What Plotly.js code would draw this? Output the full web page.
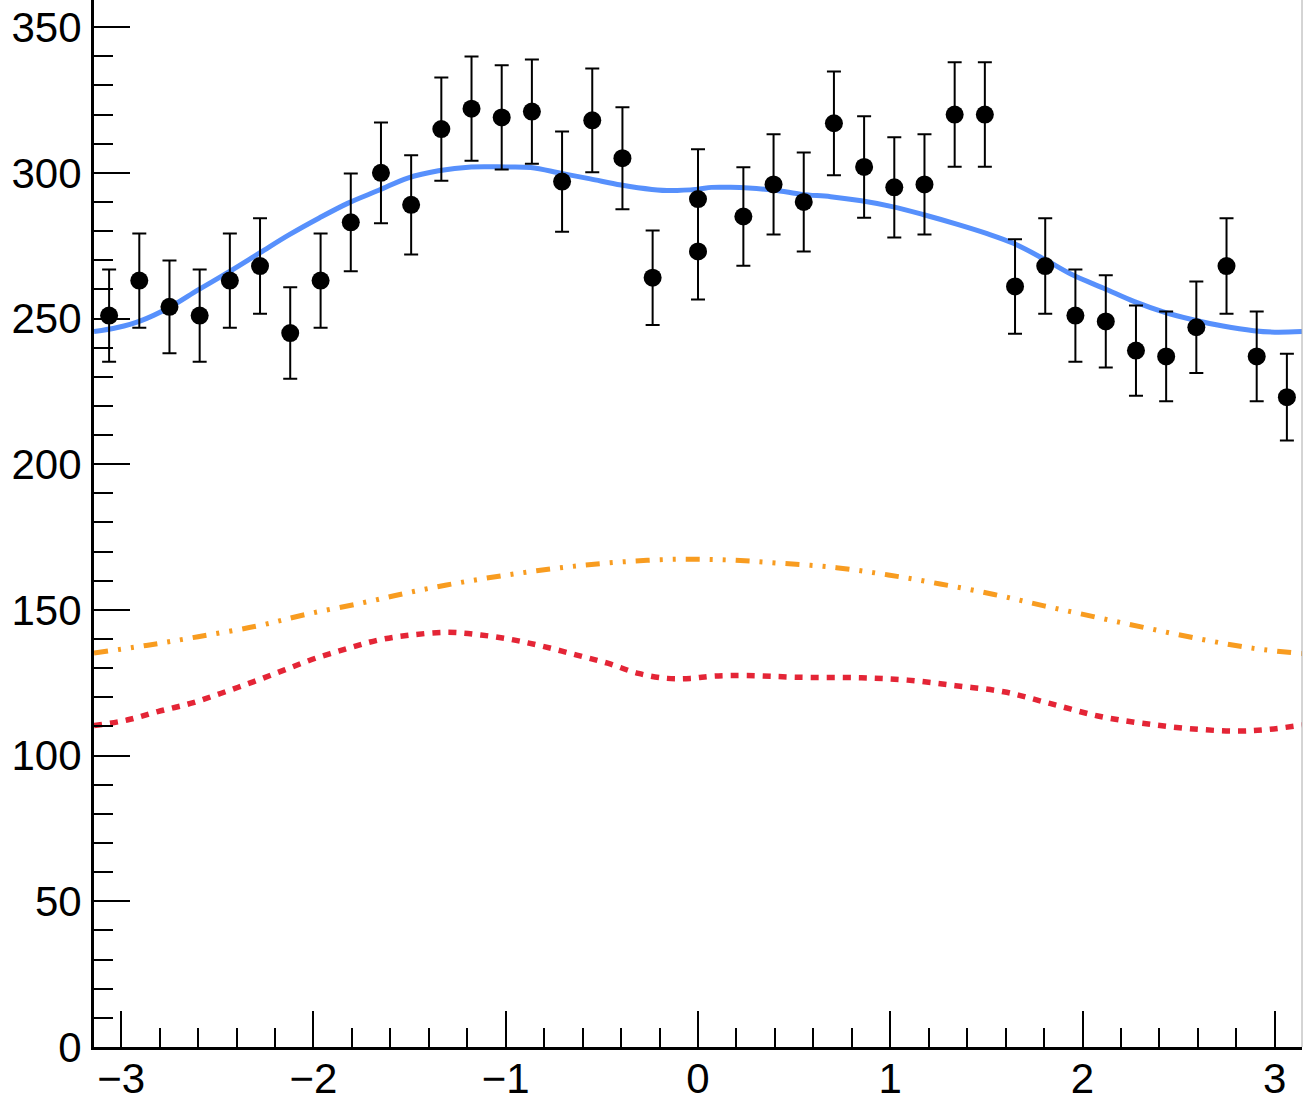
<!DOCTYPE html>
<html>
<head>
<meta charset="utf-8">
<script src="https://cdn.plot.ly/plotly-3.0.1.min.js"></script>
<style>html,body{margin:0;padding:0;background:#fff;}#chart{width:1303px;height:1101px;}</style>
</head>
<body>
<div id="chart"></div>
<script>
// Data points (bin centres, counts, errors)
const dataX = [-3.063, -2.906, -2.749, -2.592, -2.435, -2.278, -2.121, -1.963, -1.806, -1.649,
               -1.492, -1.335, -1.178, -1.021, -0.864, -0.707, -0.550, -0.393, -0.236, 0.0,
               0.0, 0.236, 0.393, 0.550, 0.707, 0.864, 1.021, 1.178, 1.335, 1.492,
               1.649, 1.806, 1.963, 2.121, 2.278, 2.435, 2.592, 2.749, 2.906, 3.063];
const dataY = [251, 263, 254, 251, 263, 268, 245, 263, 283, 300,
               289, 315, 322, 319, 321, 297, 318, 305, 264, 291,
               273, 285, 296, 290, 317, 302, 295, 296, 320, 320,
               261, 268, 251, 249, 239, 237, 247, 268, 237, 223];
const dataErr = [15.8, 16.2, 15.9, 15.8, 16.2, 16.4, 15.7, 16.2, 16.8, 17.3,
                 17.0, 17.7, 17.9, 17.9, 17.9, 17.2, 17.8, 17.5, 16.2, 17.1,
                 16.5, 16.9, 17.2, 17.0, 17.8, 17.4, 17.2, 17.2, 17.9, 17.9,
                 16.2, 16.4, 15.8, 15.8, 15.5, 15.4, 15.7, 16.4, 15.4, 14.9];

// Total model (blue)
const totalX = [-3.1416, -3.02, -2.90, -2.75, -2.60, -2.44, -2.28, -2.13, -1.97, -1.82, -1.66,
                -1.51, -1.35, -1.18, -1.00, -0.87, -0.71, -0.56, -0.40, -0.24, -0.14,
                0.0, 0.07, 0.17, 0.39, 0.54, 0.69, 0.85, 1.01, 1.17, 1.35,
                1.50, 1.64, 1.80, 1.95, 2.11, 2.27, 2.42, 2.58, 2.73, 2.89, 3.00, 3.1416];
const totalY = [245.5, 246.9, 249.2, 253.8, 259.8, 266.0, 272.5, 278.6, 284.5, 289.6, 294.0,
                298.2, 300.7, 302.0, 302.0, 301.8, 299.8, 297.9, 295.8, 294.3, 293.9,
                294.4, 295.0, 295.0, 294.1, 292.6, 291.8, 290.4, 288.4, 285.7, 282.3,
                279.2, 275.8, 270.4, 264.9, 260.4, 255.8, 252.3, 249.5, 247.4, 245.8, 245.3, 245.5];

// Component 1 (orange, dash-dot-dot)
const comp1X = [-3.1416, -2.87, -2.60, -2.29, -2.03, -1.74, -1.48, -1.21, -0.94, -0.67, -0.39, -0.10,
                0.17, 0.43, 0.72, 0.99, 1.26, 1.54, 1.80, 2.07, 2.34, 2.62, 2.89, 3.1416];
const comp1Y = [135.2, 137.8, 140.8, 144.5, 148.6, 152.5, 156.3, 159.7, 162.5, 164.8, 166.5, 167.4,
                167.1, 166.0, 164.5, 162.0, 158.9, 155.3, 151.4, 147.5, 143.7, 139.9, 136.8, 135.0];

// Component 2 (red, dotted)
const comp2X = [-3.1416, -2.97, -2.81, -2.64, -2.48, -2.31, -2.15, -1.99, -1.82, -1.66,
                -1.49, -1.30, -1.13, -0.96, -0.80, -0.63, -0.47, -0.31, -0.16, -0.04,
                0.08, 0.25, 0.51, 0.85, 1.09, 1.34, 1.59, 1.83, 2.08, 2.31,
                2.55, 2.80, 2.97, 3.1416];
const comp2Y = [110.3, 112.2, 115.1, 117.9, 121.4, 125.4, 129.4, 133.4, 136.8, 139.7,
                141.4, 142.3, 141.4, 139.7, 137.4, 134.5, 131.7, 128.2, 126.5, 126.5,
                127.3, 127.5, 126.9, 126.7, 125.9, 124.0, 121.9, 117.9, 113.6, 111.1,
                109.3, 108.4, 109.0, 110.5];

const xTicks = [-3, -2, -1, 0, 1, 2, 3];
const yTicks = [0, 50, 100, 150, 200, 250, 300, 350];

const traces = [
  {x: comp1X, y: comp1Y, type: 'scatter', mode: 'lines',
   line: {color: '#f89c20', width: 5, shape: 'spline', dash: '14px,10px,3px,10px,3px,10px'}},
  {x: comp2X, y: comp2Y, type: 'scatter', mode: 'lines',
   line: {color: '#e42536', width: 5.5, shape: 'spline', dash: '8px,8px'}},
  {x: totalX, y: totalY, type: 'scatter', mode: 'lines',
   line: {color: '#5790fc', width: 5, shape: 'spline'}},
  {x: dataX, y: dataY, type: 'scatter', mode: 'markers',
   marker: {color: '#000000', size: 18},
   error_y: {type: 'data', array: dataErr, visible: true, color: '#000000', thickness: 2, width: 7}}
];

const layout = {
  width: 1303, height: 1101,
  margin: {l: 94, r: 1, t: 0, b: 54, pad: 0},
  paper_bgcolor: '#ffffff', plot_bgcolor: '#ffffff',
  showlegend: false,
  font: {family: 'Liberation Sans, Arial, sans-serif', size: 42, color: '#000000'},
  xaxis: {
    range: [-3.1416, 3.1416], tickmode: 'array', tickvals: xTicks,
    ticks: 'inside', ticklen: 36, tickwidth: 2, tickcolor: '#000000',
    minor: {dtick: 0.2, tick0: 0, ticks: 'inside', ticklen: 19, tickwidth: 2, tickcolor: '#000000'},
    showline: true, linecolor: '#000000', linewidth: 3,
    showgrid: false, zeroline: false, ticklabelstandoff: -7,
    tickfont: {size: 42}
  },
  yaxis: {
    range: [0, 359.3], tickmode: 'array', tickvals: yTicks,
    ticks: 'inside', ticklen: 36, tickwidth: 2, tickcolor: '#000000',
    minor: {dtick: 10, tick0: 0, ticks: 'inside', ticklen: 19, tickwidth: 2, tickcolor: '#000000'},
    showline: true, linecolor: '#000000', linewidth: 3,
    showgrid: false, zeroline: false, ticklabelstandoff: 1,
    tickfont: {size: 42}
  },
  shapes: [
    {type: 'line', xref: 'paper', yref: 'paper', x0: 1, x1: 1, y0: 0, y1: 1,
     line: {color: '#aaaaaa', width: 1}}
  ]
};

Plotly.newPlot('chart', traces, layout, {staticPlot: true, displayModeBar: false});
</script>
</body>
</html>
